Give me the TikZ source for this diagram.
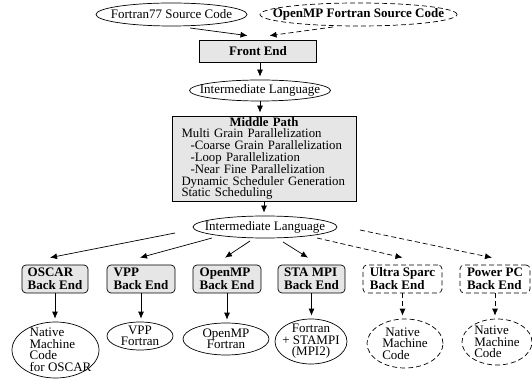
\documentclass[tikz,border=0pt]{standalone}
\usepackage{fontspec}
\setmainfont{Liberation Serif}
\usetikzlibrary{shapes.geometric,arrows.meta}

\definecolor{stageFill}{HTML}{E6E6E6}
\lineskiplimit=-10pt

\tikzset{
  every node/.style={font=\fontsize{13}{11.5}\selectfont, inner sep=0pt},
  tightEllipse/.style={ellipse, draw, line width=0.7pt},
  stageBox/.style={rectangle, draw, fill=stageFill, line width=0.7pt},
  backEnd/.style={rectangle, rounded corners=4pt, draw, line width=0.7pt, align=left,
    font=\fontsize{13}{13}\selectfont\bfseries, minimum height=28pt},
  dashLine/.style={dash pattern=on 5pt off 3pt},
  flow/.style={-{Latex[length=7pt,width=6pt]}, line width=0.7pt},
}

\begin{document}
\begin{tikzpicture}[x=1pt,y=1pt]
\useasboundingbox (0,0) rectangle (532,380);

% Sources
\node[tightEllipse, minimum width=151pt, minimum height=23pt,
  label={center:Fortran77 Source Code}] (f77) at (171.5,365.5) {};
\node[tightEllipse, dashLine, minimum width=197pt, minimum height=23pt,
  label={center:\bfseries OpenMP Fortran Source Code}] (ompSrc) at (358.5,365.5) {};

\node[stageBox, minimum width=117pt, minimum height=22pt] (fe) at (258,329) {\bfseries Front End};

\node[tightEllipse, minimum width=141pt, minimum height=21pt,
  label={center:Intermediate Language}] (il1) at (260,289.5) {};

% Middle path
\node[stageBox, minimum width=184pt, minimum height=85pt, text width=165pt,
  align=left, font=\fontsize{12.8}{11.8}\selectfont] (mp) at (264,221.5) {%
  \hfill\textbf{Middle Path}\hfill\null\\
  Multi Grain Parallelization\\
  \hspace*{9pt}-Coarse Grain Parallelization\\
  \hspace*{9pt}-Loop Parallelization\\
  \hspace*{9pt}-Near Fine Parallelization\\
  Dynamic Scheduler Generation\\
  Static Scheduling};

\node[tightEllipse, minimum width=144pt, minimum height=22pt,
  label={center:Intermediate Language}] (il2) at (265,153) {};

% Back ends
\node[backEnd, fill=stageFill, minimum width=66pt] (oscar) at (55,101) {OSCAR\\Back End};
\node[backEnd, fill=stageFill, minimum width=68pt] (vpp) at (141,101) {VPP\\Back End};
\node[backEnd, fill=stageFill, minimum width=68pt] (ompBe) at (227,101) {OpenMP\\Back End};
\node[backEnd, fill=stageFill, minimum width=67pt] (sta) at (311.5,101) {STA MPI\\Back End};
\node[backEnd, dashLine, minimum width=79pt] (ultra) at (402.5,101) {Ultra Sparc\\Back End};
\node[backEnd, dashLine, minimum width=70pt] (ppc) at (495,101) {Power PC\\Back End};

% Outputs
\node[tightEllipse, minimum width=87pt, minimum height=56pt,
  label={[align=left,xshift=5pt]center:Native\\Machine\\Code\\for OSCAR}] (oscarOut) at (55.5,30) {};
\node[tightEllipse, minimum width=66pt, minimum height=28pt,
  label={[align=center]center:VPP\\Fortran}] (vppOut) at (140,44) {};
\node[tightEllipse, minimum width=86pt, minimum height=32pt,
  label={[align=center]center:OpenMP\\Fortran}] (ompOut) at (226,41) {};
\node[tightEllipse, minimum width=72pt, minimum height=45pt,
  label={[align=center]center:Fortran\\+ STAMPI\\(MPI2)}] (staOut) at (311,38.5) {};
\node[tightEllipse, dashLine, minimum width=76pt, minimum height=49pt,
  label={[align=left]center:\hspace*{3pt}Native\\Machine\\Code}] (ultraOut) at (405,36.5) {};
\node[tightEllipse, dashLine, minimum width=70pt, minimum height=46pt,
  label={[align=left]center:Native\\Machine\\Code}] (ppcOut) at (497,38) {};

% Arrows
\draw[flow] ([shift={(18.5,-13.5)}]f77.center) -- ([shift={(-10.5,4)}]fe.north);
\draw[flow, dashLine] ([shift={(-25.5,-12.5)}]ompSrc.center) -- ([shift={(11.5,4)}]fe.north);
\draw[flow, shorten >=3pt] (il1.north |- fe.south) -- (il1.north);
\draw[flow, shorten >=3pt] (il1.south) -- (il1.south |- mp.north);
\draw[flow, shorten >=3pt] (mp.south) -- (mp.south |- il2.north);

\draw[flow] ([shift={(-90,-6)}]il2.center) -- ([shift={(-5,7)}]oscar.north);
\draw[flow] ([shift={(-53,-11)}]il2.center) -- ([shift={(-1,7)}]vpp.north);
\draw[flow] ([shift={(-15,-14)}]il2.center) -- ([shift={(-2,7)}]ompBe.north);
\draw[flow] ([shift={(18,-15)}]il2.center) -- ([shift={(-3.5,7)}]sta.north);
\draw[flow, dashLine] ([shift={(52,-11)}]il2.center) -- ([shift={(0,7)}]ultra.north);
\draw[flow, dashLine] ([shift={(95,-3)}]il2.center) -- ([shift={(-3,7)}]ppc.north);

\draw[flow, shorten >=3pt] (oscar.south) -- (oscar.south |- oscarOut.north);
\draw[flow, shorten >=3pt] (vpp.south) -- (vpp.south |- vppOut.north);
\draw[flow, shorten >=3pt] (ompBe.south) -- (ompBe.south |- ompOut.north);
\draw[flow, shorten >=3pt] (sta.south) -- (sta.south |- staOut.north);
\draw[flow, dashLine, shorten >=3pt] (ultra.south) -- (ultra.south |- ultraOut.north);
\draw[flow, dashLine, shorten >=3pt] (ppc.south) -- (ppc.south |- ppcOut.north);
\end{tikzpicture}
\end{document}
